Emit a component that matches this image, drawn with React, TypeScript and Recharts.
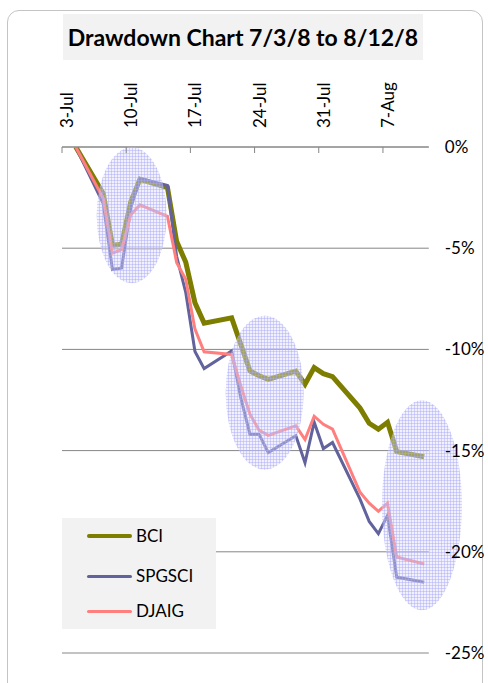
import React from 'react';
import { LineChart, Line, XAxis, YAxis, CartesianGrid, ReferenceDot } from 'recharts';

// ---- data ----
const START_DATE = '2008-07-03';
const dates = [
  '2008-07-04', '2008-07-07', '2008-07-08', '2008-07-09', '2008-07-10', '2008-07-11',
  '2008-07-14', '2008-07-15', '2008-07-16', '2008-07-17', '2008-07-18',
  '2008-07-21', '2008-07-22', '2008-07-23', '2008-07-24', '2008-07-25',
  '2008-07-28', '2008-07-29', '2008-07-30', '2008-07-31', '2008-08-01',
  '2008-08-04', '2008-08-05', '2008-08-06', '2008-08-07', '2008-08-08',
  '2008-08-11',
];
const bci = [0, -2.3, -4.85, -4.8, -2.7, -1.6, -2.0, -4.66, -5.7, -7.7, -8.7, -8.44, -9.75, -11.07, -11.3, -11.48, -11.07, -11.72, -10.9, -11.2, -11.35, -12.9, -13.65, -13.94, -13.6, -15.05, -15.3];
const spgsci = [0, -2.8, -6.05, -5.98, -3.0, -1.55, -1.9, -5.4, -7.2, -10.1, -10.95, -10.08, -12.4, -14.2, -14.2, -15.1, -14.27, -15.6, -13.6, -14.9, -14.6, -17.4, -18.5, -19.1, -18.2, -21.25, -21.5];
const djaig = [0, -2.55, -5.25, -5.07, -3.35, -2.86, -3.43, -5.7, -6.55, -9.0, -10.12, -10.25, -11.8, -13.2, -14.0, -14.25, -13.78, -14.45, -13.3, -13.7, -13.94, -17.06, -17.6, -18.0, -17.6, -20.26, -20.6];
const xTickDays = [0, 7, 14, 21, 28, 35];
const xTickLabels = ['3-Jul', '10-Jul', '17-Jul', '24-Jul', '31-Jul', '7-Aug'];
const yTicks = [0, -5, -10, -15, -20, -25];
// highlighted regions: [day, value]
const highlightCenters = [[7.1, -3.37], [21.6, -12.14], [38.75, -17.7]];
const highlightRadii = [[35, 68], [39, 77], [40, 105]];

const series = [
  { key: 'BCI', values: bci, color: '#7d7d00', width: 5 },
  { key: 'SPGSCI', values: spgsci, color: '#62629c', width: 3 },
  { key: 'DJAIG', values: djaig, color: '#ff7f7f', width: 3 },
];

const dayOf = (d: string) => (Date.parse(d) - Date.parse(START_DATE)) / 86400000;
const data = dates.map((d, i) => ({
  day: dayOf(d),
  BCI: bci[i],
  SPGSCI: spgsci[i],
  DJAIG: djaig[i],
}));

const W = 488;
const H = 683;
const FONT = 'Lato, "Open Sans", sans-serif';
const PLOT_LEFT = 62;
const PLOT_RIGHT = 428.8;
const DOMAIN: [number, number] = [-0.5, 39.5];
const HALF_DAY = (PLOT_RIGHT - PLOT_LEFT) / (DOMAIN[1] - DOMAIN[0]) / 2;

const XTick = (props: any) => {
  const { x, y, payload } = props;
  const idx = xTickDays.indexOf(payload.value);
  return (
    <g>
      <line x1={x - HALF_DAY} x2={x - HALF_DAY} y1={y} y2={y + 6} stroke="#868686" strokeWidth={1} />
      <text
        transform={`translate(${x}, ${y - 19}) rotate(-90)`}
        textAnchor="start"
        dominantBaseline="central"
        fontSize={17}
        fontFamily={FONT}
        fill="#000"
      >
        {xTickLabels[idx]}
      </text>
    </g>
  );
};

const makeEllipse = (rx: number, ry: number) => (props: any) => (
  <ellipse cx={props.cx} cy={props.cy} rx={rx} ry={ry} fill="url(#smallGrid)" />
);

const legendOffsets = [18, 58, 93];
const LegendBox = () => (
  <div
    style={{
      position: 'absolute',
      left: 62,
      top: 518,
      width: 154,
      height: 111,
      background: '#f2f2f2',
      fontFamily: FONT,
    }}
  >
    {series.map((s, i) => (
      <React.Fragment key={s.key}>
        <div
          style={{
            position: 'absolute',
            left: 25,
            top: legendOffsets[i] - (i === 0 ? 2 : 1.5),
            width: 45,
            height: i === 0 ? 4 : 3,
            background: s.color,
            borderRadius: 2,
          }}
        />
        <div
          style={{
            position: 'absolute',
            left: 74,
            top: legendOffsets[i] - 11,
            fontSize: 17,
            lineHeight: '22px',
            color: '#000',
          }}
        >
          {s.key}
        </div>
      </React.Fragment>
    ))}
  </div>
);

export default function App() {
  return (
    <div style={{ position: 'absolute', left: 0, top: 0, width: W, height: H, overflow: 'hidden', background: '#fff' }}>
      <div
        style={{
          position: 'absolute',
          left: 7,
          top: 10,
          width: 474,
          height: 720,
          border: '1px solid #c4c4c4',
          borderRadius: 12,
        }}
      />
      <div
        style={{
          position: 'absolute',
          left: 63,
          top: 14,
          width: 360,
          height: 46,
          background: '#f2f2f2',
          fontFamily: FONT,
          fontWeight: 700,
          fontSize: 23,
          lineHeight: '46px',
          textAlign: 'center',
          color: '#000',
          whiteSpace: 'nowrap',
        }}
      >
        Drawdown Chart 7/3/8 to 8/12/8
      </div>
      <div style={{ position: 'absolute', left: 0, top: 0 }}>
        <LineChart
          width={W}
          height={H}
          data={data}
          margin={{ top: 67, right: W - PLOT_RIGHT - 50, bottom: 30, left: PLOT_LEFT }}
        >
          <defs>
            <pattern id="smallGrid" width="3" height="3" patternUnits="userSpaceOnUse">
              <rect width="3" height="3" fill="#dcdcfc" fillOpacity={0.4} />
              <path d="M0 0.5H3M0.5 0V3" stroke="#a8a8f6" strokeWidth={1} strokeOpacity={0.45} />
            </pattern>
          </defs>
          <CartesianGrid vertical={false} stroke="#868686" strokeWidth={1} />
          <XAxis
            dataKey="day"
            type="number"
            orientation="top"
            domain={DOMAIN}
            ticks={xTickDays}
            interval={0}
            height={80}
            tickSize={0}
            tickMargin={0}
            tickLine={false}
            axisLine={{ stroke: '#868686' }}
            tick={<XTick />}
            allowDataOverflow
          />
          <YAxis
            orientation="right"
            domain={[-25, 0]}
            ticks={yTicks}
            width={50}
            tickLine={false}
            axisLine={false}
            tickSize={8}
            tickMargin={8}
            tickFormatter={(v: number) => `${v}%`}
            tick={{ fontSize: 17, fill: '#000', fontFamily: FONT }}
            allowDataOverflow
          />
          {series.map((s) => (
            <Line
              key={s.key}
              dataKey={s.key}
              type="linear"
              stroke={s.color}
              strokeWidth={s.width}
              dot={false}
              activeDot={false}
              isAnimationActive={false}
            />
          ))}
          {highlightCenters.map((c, i) => (
            <ReferenceDot
              key={i}
              x={c[0]}
              y={c[1]}
              r={1}
              ifOverflow="visible"
              shape={makeEllipse(highlightRadii[i][0], highlightRadii[i][1])}
            />
          ))}
        </LineChart>
      </div>
      <LegendBox />
    </div>
  );
}
